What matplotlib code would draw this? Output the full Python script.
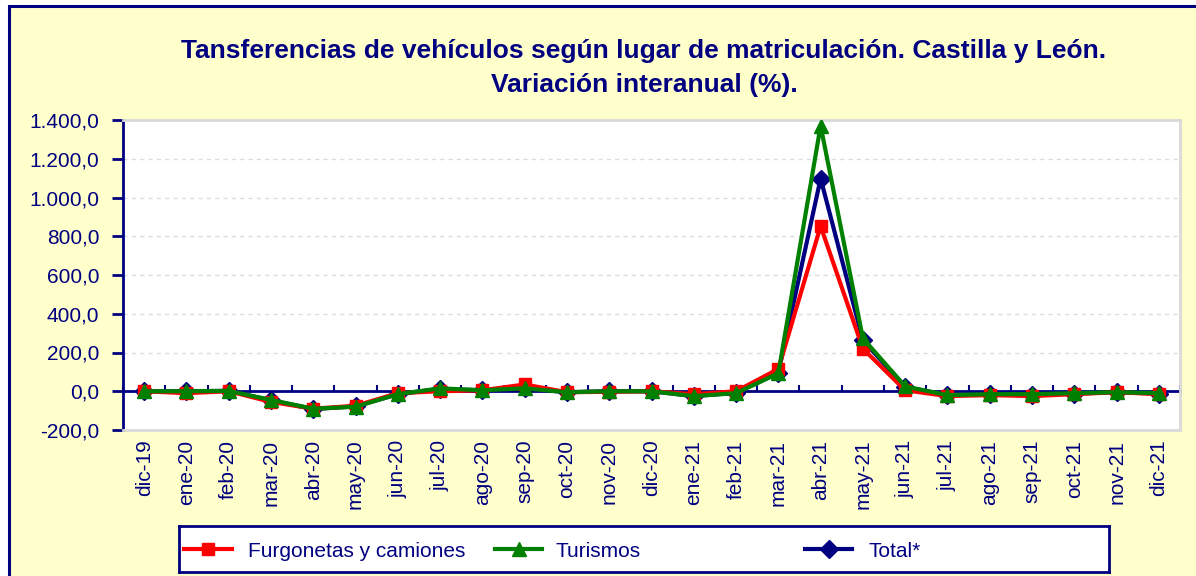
import matplotlib
matplotlib.use("Agg")
import matplotlib.pyplot as plt
from matplotlib.patches import Rectangle
from matplotlib.lines import Line2D
import numpy as np

plt.rcParams['font.family'] = ['Liberation Sans', 'DejaVu Sans']

categories = ["dic-19", "ene-20", "feb-20", "mar-20", "abr-20", "may-20", "jun-20",
              "jul-20", "ago-20", "sep-20", "oct-20", "nov-20", "dic-20", "ene-21",
              "feb-21", "mar-21", "abr-21", "may-21", "jun-21", "jul-21", "ago-21",
              "sep-21", "oct-21", "nov-21", "dic-21"]

furgonetas = [0, -10, 0, -55, -90, -75, -10, 0, 5, 35, -5, -3, 0, -15, 0,
              115, 852, 220, 5, -25, -20, -25, -15, -5, -15]
turismos = [0, 0, 2, -45, -90, -80, -15, 15, 5, 15, -5, 0, 0, -25, -10,
            93, 1370, 273, 25, -20, -15, -15, -10, -5, -10]
total = [0, 0, 2, -47, -92, -78, -15, 12, 5, 15, -5, 0, 0, -25, -8,
         95, 1098, 263, 22, -20, -15, -18, -12, -5, -12]

yticks = [-200, 0, 200, 400, 600, 800, 1000, 1200, 1400]
ytick_labels = ["-200,0", "0,0", "200,0", "400,0", "600,0", "800,0",
                "1.000,0", "1.200,0", "1.400,0"]

title = "Tansferencias de vehículos según lugar de matriculación. Castilla y León.\nVariación interanual (%)."
labels = ["Furgonetas y camiones", "Turismos", "Total*"]

NAVY = "#000080"
RED = "#FF0000"
GREEN = "#008000"
YELLOW = "#FFFFCC"

W, H = 1196, 576
fig = plt.figure(figsize=(W / 100, H / 100), dpi=100)
fig.patch.set_facecolor("white")

# yellow chart frame
fig.patches.append(Rectangle((9 / W, -0.05), 1.1, 1 - 6 / H + 0.05, transform=fig.transFigure,
                             facecolor=YELLOW, edgecolor=NAVY, linewidth=2.2, zorder=-10))

ax = fig.add_axes([123 / W, 1 - 430 / H, (1180 - 123) / W, (430 - 120) / H])
ax.set_facecolor("white")
x = np.arange(len(categories))

ax.set_xlim(-0.5, len(categories) - 0.5)
ax.set_ylim(-200, 1400)

for v in yticks[2:]:
    ax.axhline(v, color="#DCDCDC", lw=1.0, ls=(0, (3, 3)), zorder=1)

ax.plot(x, total, color=NAVY, lw=3, marker="D", ms=9, zorder=3)
ax.plot(x, furgonetas, color=RED, lw=3, marker="s", ms=8.5, zorder=4)
ax.plot(x, turismos, color=GREEN, lw=3, marker="^", ms=9.5, zorder=5)

# spines
for s in ["top", "right", "bottom"]:
    ax.spines[s].set_color("#D9D9D9")
    ax.spines[s].set_linewidth(2)
ax.spines["left"].set_color(NAVY)
ax.spines["left"].set_linewidth(2)

ax.set_yticks(yticks)
ax.set_yticklabels(ytick_labels)
ax.tick_params(axis="y", direction="out", length=8, width=2, color=NAVY,
               labelcolor=NAVY, labelsize=15, pad=9)

ax.set_xticks(x)
ax.set_xticklabels(categories, rotation=90)
ax.tick_params(axis="x", length=0, labelcolor=NAVY, labelsize=15, pad=7)

# zero axis with category boundary ticks
sec = ax.secondary_xaxis(200 / 1600)
sec.set_xticks(np.arange(len(categories) + 1) - 0.5)
sec.tick_params(direction="in", length=4, width=1.5, color=NAVY, labelbottom=False)
sec.spines["bottom"].set_color(NAVY)
sec.spines["bottom"].set_linewidth(2)

fig.text(644 / W, 1 - 68 / H, title, ha="center", va="center", fontsize=19,
         fontweight="bold", color=NAVY, linespacing=1.55)

# legend box
lax = fig.add_axes([179 / W, 1 - 572 / H, (1109 - 179) / W, (572 - 526) / H])
lax.set_xlim(179, 1109)
lax.set_ylim(0, 1)
lax.set_facecolor("white")
lax.set_xticks([])
lax.set_yticks([])
for s in lax.spines.values():
    s.set_color(NAVY)
    s.set_linewidth(2)
handles = [(RED, "s", 8.5, 184, 232, 248), (GREEN, "^", 9.5, 495, 542, 556),
           (NAVY, "D", 9, 805, 852, 868)]
for (c, m, ms, x0, x1, xt), lab in zip(handles, labels):
    lax.add_line(Line2D([x0, x1], [0.5, 0.5], color=c, lw=3))
    lax.add_line(Line2D([(x0 + x1) / 2], [0.5], color=c, marker=m, ms=ms, lw=0))
    lax.text(xt, 0.45, lab, color=NAVY, fontsize=15, va="center", ha="left")

fig.savefig("out.png", dpi=100, facecolor=fig.get_facecolor())
